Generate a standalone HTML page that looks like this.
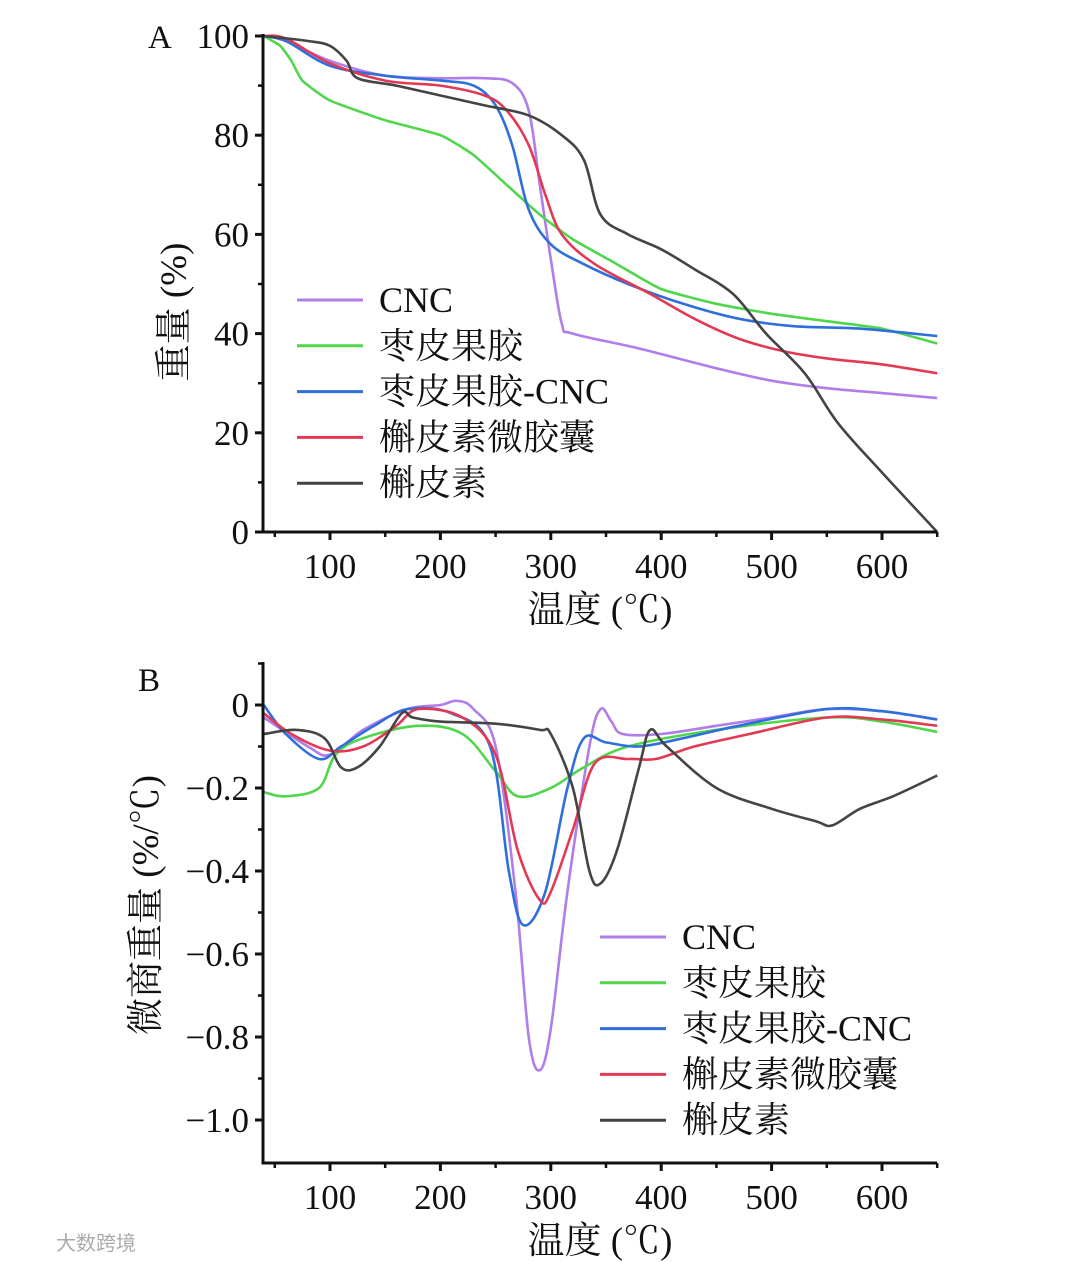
<!DOCTYPE html>
<html><head><meta charset="utf-8">
<style>
html,body{margin:0;padding:0;background:#fff;}
svg{display:block;font-family:"Liberation Serif","Noto Serif CJK SC",serif;}
</style></head>
<body>
<svg id="c" width="1080" height="1262" viewBox="0 0 1080 1262" xmlns="http://www.w3.org/2000/svg"></svg>
<script>
// ---- Data ----
const seriesNames = ["CNC","枣皮果胶","枣皮果胶-CNC","槲皮素微胶囊","槲皮素"];
const seriesColors = ["#b07ee8","#4fd64a","#2f6fdc","#e23a55","#444444"];
const xTicks = [100,200,300,400,500,600];
const yTicksA = [0,20,40,60,80,100];
const yTicksB = [0,-0.2,-0.4,-0.6,-0.8,-1.0];
const yTickLabelsB = ["0","−0.2","−0.4","−0.6","−0.8","−1.0"];
// TGA (panel A): [temperature, weight%]
const tgaCNC = [[40,100],[60,99],[100,95],[150,92],[200,91.5],[240,91.5],[265,90.5],[280,85],[290,70],[300,55],[310,42],[320,40],[380,37],[450,33],[500,30.5],[550,29],[600,28],[650,27]];
const tgaPectin = [[40,100],[55,98],[65,95],[75,91],[100,87],[150,83],[200,80],[230,76],[260,70],[290,64],[320,59],[360,54],[400,49],[450,46],[500,44],[550,42.5],[600,41],[650,38]];
const tgaPectinCNC = [[40,100],[60,99],[100,94],[150,92],[200,91],[230,90],[250,86],[265,78],[280,65],[300,58],[330,54],[370,50],[420,46],[470,43],[520,41.5],[580,41],[650,39.5]];
const tgaMicro = [[40,100],[60,99.5],[100,94.5],[150,91],[200,90],[240,88],[260,85],[280,78],[295,68],[310,60],[340,54],[390,48],[430,43],[470,39],[510,36.5],[550,35],[600,33.8],[650,32]];
const tgaQuer = [[40,100],[80,99],[100,98],[115,95],[125,91.5],[160,90],[200,88],[240,86],[280,84],[310,80],[330,75],[345,64],[370,60],[400,57],[430,53],[465,48],[495,40],[530,32],[560,22],[600,12],[650,0]];
// DTG (panel B): [temperature, %/°C]
const dtgCNC = [[40,-0.03],[80,-0.1],[100,-0.12],[130,-0.06],[170,-0.01],[200,0],[215,0.01],[230,-0.01],[250,-0.1],[268,-0.45],[280,-0.8],[290,-0.88],[300,-0.78],[315,-0.45],[335,-0.1],[345,-0.01],[355,-0.04],[365,-0.07],[400,-0.07],[450,-0.05],[500,-0.03],[550,-0.01],[600,-0.015],[650,-0.035]];
const dtgPectin = [[40,-0.21],[60,-0.22],[90,-0.2],[105,-0.12],[130,-0.08],[180,-0.05],[220,-0.07],[250,-0.16],[270,-0.22],[300,-0.2],[330,-0.15],[370,-0.1],[450,-0.06],[550,-0.03],[600,-0.04],[650,-0.065]];
const dtgPectinCNC = [[40,0],[60,-0.07],[90,-0.13],[110,-0.1],[140,-0.05],[170,-0.01],[210,-0.02],[245,-0.1],[262,-0.4],[275,-0.53],[295,-0.45],[315,-0.2],[330,-0.08],[350,-0.09],[380,-0.1],[420,-0.08],[470,-0.05],[550,-0.01],[600,-0.015],[650,-0.035]];
const dtgMicro = [[40,-0.02],[65,-0.07],[100,-0.11],[130,-0.1],[160,-0.05],[180,-0.01],[220,-0.03],[250,-0.12],[270,-0.35],[290,-0.47],[300,-0.45],[320,-0.3],[340,-0.14],[370,-0.13],[395,-0.13],[430,-0.1],[480,-0.07],[550,-0.03],[600,-0.035],[650,-0.05]];
const dtgQuer = [[40,-0.07],[70,-0.06],[95,-0.08],[110,-0.15],[125,-0.15],[145,-0.1],[165,-0.02],[175,-0.03],[200,-0.04],[250,-0.045],[290,-0.06],[300,-0.07],[320,-0.2],[335,-0.4],[345,-0.43],[360,-0.35],[380,-0.15],[390,-0.06],[405,-0.1],[450,-0.2],[500,-0.25],[540,-0.28],[555,-0.29],[580,-0.25],[610,-0.22],[650,-0.17]];

const tgaSeries = [tgaCNC,tgaPectin,tgaPectinCNC,tgaMicro,tgaQuer];
const dtgSeries = [dtgCNC,dtgPectin,dtgPectinCNC,dtgMicro,dtgQuer];

// ---- Scales ----
const X0=263, X1=937;
const xS = t => 330 + (t-100)*(882-330)/500;
const yA = v => 532 - v*(532-36)/100;
function yBs(v){ return 705 + (-v)*(1120-705); }

const svg=document.getElementById('c');
const NS="http://www.w3.org/2000/svg";
function mk(tag,attrs,parent){const e=document.createElementNS(NS,tag);for(const k in attrs)e.setAttribute(k,attrs[k]);(parent||svg).appendChild(e);return e;}
function txt(s,attrs,parent){const e=mk('text',attrs,parent);e.textContent=s;return e;}

function smoothPath(pts,tension){
  const k=tension||6;
  let d=`M${pts[0][0].toFixed(1)},${pts[0][1].toFixed(1)}`;
  for(let i=0;i<pts.length-1;i++){
    const p0=pts[Math.max(0,i-1)],p1=pts[i],p2=pts[i+1],p3=pts[Math.min(pts.length-1,i+2)];
    const c1x=p1[0]+(p2[0]-p0[0])/k,c1y=p1[1]+(p2[1]-p0[1])/k;
    const c2x=p2[0]-(p3[0]-p1[0])/k,c2y=p2[1]-(p3[1]-p1[1])/k;
    d+=` C${c1x.toFixed(1)},${c1y.toFixed(1)} ${c2x.toFixed(1)},${c2y.toFixed(1)} ${p2[0].toFixed(1)},${p2[1].toFixed(1)}`;
  }
  return d;
}

function panel(opts){
  const g=mk('g',{});
  
  
  const {yTop,yBot,yFn,yTicks,yLabels,yMinor,yTitle,yTitleX,yTitleY,series,legendX,legendY,letter,letterX,letterY}=opts;
  series.forEach((s,i)=>{
    const p=mk('path',{d:smoothPath(s.map(q=>[xS(q[0]),yFn(q[1])]),(opts.sharp&&i===1)?12:6),fill:'none',stroke:seriesColors[i],'stroke-width':2.6,'stroke-linejoin':'round'},g);
    
    
  });
  const ax=mk('path',{d:`M${X0},${yTop} L${X0},${yBot} L${X1},${yBot}`,fill:'none',stroke:'#111','stroke-width':3},g);
  
  
  xTicks.forEach(t=>{
    mk('line',{x1:xS(t),x2:xS(t),y1:yBot,y2:yBot+8,stroke:'#111','stroke-width':3},g);
    const l=txt(String(t),{x:xS(t),y:yBot+46,'font-size':35,'text-anchor':'middle',fill:'#111'},g);
    
    
  });
  [50,150,250,350,450,550,650].forEach(t=>mk('line',{x1:xS(t),x2:xS(t),y1:yBot,y2:yBot+5,stroke:'#111','stroke-width':2.5},g));
  yTicks.forEach((v,i)=>{
    mk('line',{x1:X0-8,x2:X0,y1:yFn(v),y2:yFn(v),stroke:'#111','stroke-width':3},g);
    const l=txt(yLabels[i],{x:X0-14,y:yFn(v)+12,'font-size':35,'text-anchor':'end',fill:'#111'},g);
    
    
  });
  yMinor.forEach(v=>mk('line',{x1:X0-5,x2:X0,y1:yFn(v),y2:yFn(v),stroke:'#111','stroke-width':2.5},g));
  const xt=txt('温度 (℃)',{x:600,y:yBot+90,'font-size':37,'text-anchor':'middle',fill:'#111'},g);
  
  
  const yt=txt(yTitle,{x:0,y:0,'font-size':37,'text-anchor':'middle',fill:'#111',transform:`translate(${yTitleX},${yTitleY}) rotate(-90)`},g);
  
  
  const lt=txt(letter,{x:letterX,y:letterY,'font-size':33,fill:'#111'},g);
  
  
  seriesNames.forEach((n,i)=>{
    const y=legendY+i*45.8;
    const le=mk('g',{},g);
    
    
    mk('line',{x1:legendX,x2:legendX+66,y1:y,y2:y,stroke:seriesColors[i],'stroke-width':3},le);
    txt(n,{x:legendX+82,y:y+12,'font-size':36,fill:'#111'},le);
  });
}

panel({name:'panel-a-tga',sharp:true,yTop:34,yBot:532,yFn:yA,yTicks:yTicksA,yLabels:yTicksA.map(String),yMinor:[10,30,50,70,90],
  yTitle:'重量 (%)',yTitleX:186,yTitleY:312,series:tgaSeries,legendX:297,legendY:300,letter:'A',letterX:148,letterY:48});
panel({name:'panel-b-dtg',yTop:662,yBot:1163,yFn:yBs,yTicks:yTicksB,yLabels:yTickLabelsB,yMinor:[-0.1,-0.3,-0.5,-0.7,-0.9,0.1],
  yTitle:'微商重量 (%/℃)',yTitleX:158,yTitleY:905,series:dtgSeries,legendX:600,legendY:937,letter:'B',letterX:138,letterY:691});

const wm=txt('大数跨境',{x:56,y:1250,'font-size':20,fill:'#aaa','font-family':'"Liberation Sans","Noto Sans CJK SC",sans-serif'});


</script>
</body></html>
